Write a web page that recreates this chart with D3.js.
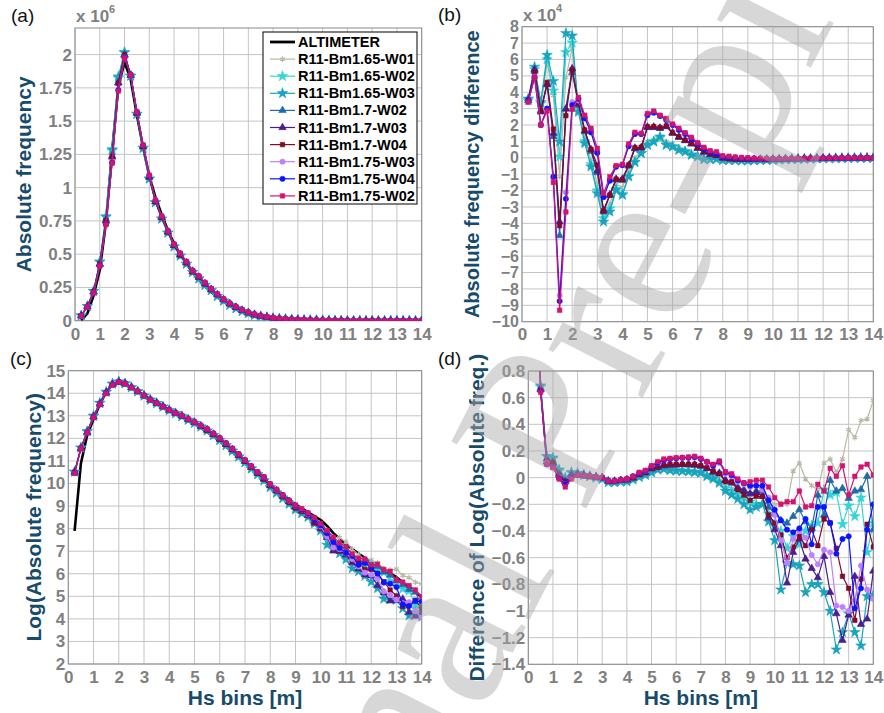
<!DOCTYPE html>
<html><head><meta charset="utf-8">
<script src="https://cdn.jsdelivr.net/npm/d3@7"></script>
<style>body{margin:0;background:#fff}</style>
</head><body>
<svg id="chart" width="884" height="713"></svg>
<script>
// ---------------- DATA ----------------
const HS_BINS = [0.25,0.5,0.75,1.0, 1.25,1.5,1.75,2.0, 2.25,2.5,2.75,3.0, 3.25,3.5,3.75,4.0,
  4.25,4.5,4.75,5.0, 5.25,5.5,5.75,6.0, 6.25,6.5,6.75,7.0, 7.25,7.5,7.75,8.0,
  8.25,8.5,8.75,9.0, 9.25,9.5,9.75,10.0, 10.25,10.5,10.75,11.0, 11.25,11.5,11.75,12.0,
  12.25,12.5,12.75,13.0, 13.25,13.5,13.75,14.0];
const X_TICKS = [0,1,2,3,4,5,6,7,8,9,10,11,12,13,14];
const A_Y_TICKS = [0,0.25,0.5,0.75,1,1.25,1.5,1.75,2];
const B_Y_TICKS = [-10,-9,-8,-7,-6,-5,-4,-3,-2,-1,0,1,2,3,4,5,6,7,8];
const C_Y_TICKS = [2,3,4,5,6,7,8,9,10,11,12,13,14,15];
const D_Y_TICKS = [-1.4,-1.2,-1,-0.8,-0.6,-0.4,-0.2,0,0.2,0.4,0.6,0.8];

// Altimeter: natural log of absolute frequency (panel c, black)
const ALT_LOG = [7.90,10.90,12.15,12.85, 13.51,14.06,14.38,14.48, 14.41,14.25,14.08,13.90,
  13.74,13.59,13.43,13.27, 13.12,12.97,12.80,12.64, 12.46,12.28,12.08,11.87,
  11.64,11.40,11.15,10.90, 10.65,10.41,10.17,9.93, 9.71,9.50,9.29,9.08,
  8.90,8.72,8.55,8.38, 8.12,7.80,7.55,7.30, 7.10,6.90,6.70,6.50,
  6.35,6.18,6.02,5.85, 5.62,5.40,5.18,4.97];

// Absolute frequency difference (model - altimeter), units of 1e4 (panel b)
const DIFF_165_W01 = [3.50,5.30,3.20,5.80, 3.80,-1.15,4.90,6.70, 3.00,1.20,-0.10,-1.60,
  -3.50,-2.80,-1.60,-1.80, -0.80,0.00,0.45,1.00, 1.10,1.30,1.00,0.85, 0.65,0.50,0.30,0.15,
  0.00,-0.03,-0.04,-0.10, -0.10,-0.11,-0.12,-0.12, -0.11,-0.10,-0.09,-0.08, -0.07,-0.06,-0.05,-0.04,
  -0.03,-0.03,-0.02,-0.02, -0.01,-0.01,-0.01,0.00, 0.00,0.00,0.00,0.00];
const DIFF_165_W02 = [3.50,5.40,3.30,6.00, 4.10,0.07,6.44,7.02, 2.90,1.00,-0.40,-2.00,
  -3.70,-3.10,-1.90,-2.20, -1.10,-0.25,0.30,0.80, 1.00,1.20,0.80,0.70, 0.50,0.40,0.20,0.10,
  -0.05,-0.07,-0.06,-0.12, -0.13,-0.14,-0.15,-0.15, -0.14,-0.13,-0.12,-0.11, -0.10,-0.09,-0.08,-0.07,
  -0.06,-0.05,-0.04,-0.04, -0.03,-0.03,-0.02,-0.02, -0.01,-0.01,-0.01,0.00];
const DIFF_165_W03 = [3.60,5.55,3.40,6.27, 4.68,0.98,7.60,7.45, 2.80,0.88,-0.54,-2.17,
  -3.90,-3.29,-1.97,-2.27, -1.15,-0.27,0.27,0.78, 0.98,1.29,0.78,0.68, 0.47,0.37,0.17,0.07,
  -0.10,-0.10,-0.08,-0.15, -0.15,-0.16,-0.17,-0.18, -0.16,-0.15,-0.14,-0.13, -0.12,-0.10,-0.09,-0.08,
  -0.07,-0.06,-0.05,-0.04, -0.04,-0.03,-0.03,-0.02, -0.02,-0.01,-0.01,-0.01];
const DIFF_17_W02 = [3.60,5.30,2.90,4.45, 1.30,-4.75,2.98,5.20, 3.20,1.60,0.40,-0.90,
  -3.30,-2.30,-1.35,-1.38, -0.50,0.55,0.60,1.85, 1.85,1.80,1.90,1.50, 1.25,1.05,0.85,0.58,
  0.35,0.20,0.12,-0.02, -0.06,-0.08,-0.09,-0.10, -0.09,-0.09,-0.09,-0.09, -0.08,-0.07,-0.06,-0.05,
  -0.05,-0.04,-0.03,-0.03, -0.02,-0.02,-0.01,-0.01, -0.01,0.00,0.00,0.00];
const DIFF_17_W03 = [3.50,5.40,2.80,4.50, 1.50,-3.90,2.98,5.45, 3.30,1.65,0.50,-0.80,
  -3.20,-2.25,-1.30,-1.30, -0.45,0.60,0.62,1.88, 1.88,1.82,1.92,1.52, 1.27,1.06,0.86,0.60,
  0.36,0.22,0.15,-0.01, -0.06,-0.08,-0.09,-0.10, -0.10,-0.10,-0.10,-0.10, -0.09,-0.08,-0.07,-0.06,
  -0.05,-0.05,-0.04,-0.03, -0.03,-0.02,-0.02,-0.01, -0.01,-0.01,0.00,0.00];
const DIFF_17_W04 = [3.50,5.20,2.87,4.60, 1.76,-4.14,2.57,5.36, 3.32,1.70,0.52,-0.44,
  -3.25,-2.27,-1.30,-1.33, -0.44,0.62,0.65,1.90, 1.90,1.84,1.94,1.53, 1.29,1.08,0.88,0.62,
  0.37,0.23,0.17,0.00, -0.05,-0.08,-0.09,-0.10, -0.09,-0.09,-0.10,-0.10, -0.09,-0.08,-0.07,-0.06,
  -0.05,-0.04,-0.04,-0.03, -0.02,-0.02,-0.02,-0.01, -0.01,-0.01,0.00,0.00];
const DIFF_175_W03 = [3.40,4.95,2.05,3.00, -1.30,-8.40,-2.10,3.40, 3.50,2.50,1.70,0.45,
  -2.30,-1.30,-0.50,-0.42, 0.75,1.50,1.45,2.65, 2.80,2.58,2.35,2.02, 1.75,1.50,1.20,0.88,
  0.60,0.40,0.30,0.08, 0.05,0.02,-0.01,-0.03, -0.05,-0.06,-0.06,-0.06, -0.06,-0.06,-0.05,-0.05,
  -0.04,-0.04,-0.03,-0.03, -0.02,-0.02,-0.01,-0.01, -0.01,0.00,0.00,0.00];
const DIFF_175_W04 = [3.50,4.90,2.00,3.00, -1.15,-8.74,-2.50,3.22, 3.60,2.41,1.55,0.30,
  -2.40,-1.40,-0.55,-0.45, 0.70,1.45,1.45,2.60, 2.75,2.55,2.30,2.00, 1.70,1.45,1.15,0.85,
  0.55,0.35,0.25,0.05, 0.03,0.00,-0.02,-0.04, -0.05,-0.05,-0.06,-0.07, -0.07,-0.06,-0.05,-0.05,
  -0.04,-0.04,-0.03,-0.02, -0.02,-0.02,-0.01,-0.01, -0.01,-0.01,0.00,0.00];
const DIFF_175_W02 = [3.40,4.90,2.00,2.85, -1.50,-9.30,-3.30,2.96, 3.69,2.60,1.80,0.58,
  -2.17,-1.15,-0.48,-0.40, 0.85,1.56,1.50,2.71, 2.85,2.60,2.40,2.06, 1.80,1.53,1.25,0.92,
  0.64,0.43,0.37,0.12, 0.10,0.05,0.02,0.00, -0.02,-0.03,-0.04,-0.05, -0.05,-0.04,-0.04,-0.03,
  -0.03,-0.02,-0.02,-0.01, -0.01,-0.01,0.00,0.00, 0.00,0.00,0.00,0.00];

// Difference of log(absolute frequency) (model - altimeter) (panel d)
const DLOG_165_W01 = [2.60,0.67,0.15,0.14, 0.05,-0.01,0.03,0.03, 0.02,0.01,0.00,-0.01,
  -0.03,-0.03,-0.025,-0.02, -0.01,0.01,0.025,0.045, 0.065,0.07,0.065,0.06, 0.06,0.055,0.05,0.045,
  0.02,0.005,-0.02,-0.06, -0.08,-0.09,-0.11,-0.13, -0.12,-0.10,-0.15,-0.20, -0.19,-0.20,0.05,0.11,
  -0.01,-0.06,-0.09,0.11, 0.14,0.04,0.14,0.36, 0.30,0.43,0.44,0.58];
const DLOG_165_W02 = [2.61,0.68,0.16,0.14, 0.05,-0.01,0.035,0.03, 0.02,0.01,0.00,-0.01,
  -0.03,-0.035,-0.03,-0.025, -0.01,0.005,0.02,0.04, 0.06,0.065,0.06,0.055, 0.05,0.05,0.045,0.04,
  0.015,0.00,-0.03,-0.08, -0.10,-0.12,-0.15,-0.18, -0.20,-0.20,-0.27,-0.35, -0.40,-0.53,-0.44,-0.50,
  -0.40,-0.36,-0.34,-0.09, -0.13,-0.11,-0.35,-0.21, -0.29,-0.15,-0.56,-0.34];
const DLOG_165_W03 = [2.62,0.69,0.16,0.15, 0.06,0.00,0.04,0.035, 0.02,0.01,0.00,-0.01,
  -0.035,-0.035,-0.03,-0.03, -0.015,0.005,0.02,0.04, 0.06,0.065,0.055,0.05, 0.05,0.045,0.04,0.035,
  0.01,-0.01,-0.04,-0.10, -0.13,-0.16,-0.20,-0.24, -0.22,-0.20,-0.33,-0.47, -0.84,-0.64,-0.65,-0.66,
  -0.86,-0.80,-0.80,-0.86, -1.00,-1.29,-1.16,-1.02, -1.16,-1.26,-0.89,-0.88];
const DLOG_17_W02 = [2.62,0.67,0.14,0.12, 0.03,-0.02,0.02,0.025, 0.02,0.01,0.005,0.00,
  -0.03,-0.03,-0.02,-0.02, -0.005,0.02,0.035,0.065, 0.075,0.09,0.095,0.10, 0.10,0.095,0.095,0.085,
  0.07,0.04,0.035,-0.02, -0.03,-0.07,-0.09,-0.12, -0.10,-0.10,-0.22,-0.27, -0.32,-0.34,-0.29,-0.24,
  -0.33,-0.38,-0.13,-0.28, -0.02,-0.10,-0.08,-0.155, -0.10,-0.09,0.01,-0.39];
const DLOG_17_W03 = [2.60,0.66,0.12,0.11, 0.02,-0.03,0.02,0.025, 0.02,0.01,0.005,0.00,
  -0.025,-0.025,-0.02,-0.015, 0.00,0.025,0.04,0.07, 0.08,0.09,0.095,0.095, 0.10,0.10,0.095,0.09,
  0.07,0.045,0.03,-0.02, -0.04,-0.08,-0.10,-0.12, -0.11,-0.14,-0.30,-0.39, -0.51,-0.79,-0.56,-0.46,
  -0.61,-0.68,-0.75,-0.59, -0.86,-1.02,-1.22,-1.03, -0.74,-1.10,-1.06,-0.70];
const DLOG_17_W04 = [2.60,0.66,0.13,0.11, 0.02,-0.04,0.01,0.02, 0.015,0.01,0.005,0.00,
  -0.025,-0.025,-0.02,-0.015, 0.00,0.025,0.04,0.07, 0.08,0.095,0.10,0.10, 0.10,0.10,0.10,0.09,
  0.075,0.05,0.03,-0.03, -0.03,-0.09,-0.13,-0.17, -0.14,-0.14,-0.28,-0.34, -0.43,-0.60,-0.52,-0.44,
  -0.51,-0.39,-0.51,-0.31, -0.34,-0.53,-0.74,-0.83, -1.07,-0.76,-0.35,-0.52];
const DLOG_175_W03 = [2.56,0.65,0.11,0.08, 0.00,-0.05,0.00,0.02, 0.015,0.01,0.005,0.00,
  -0.025,-0.025,-0.015,-0.01, 0.01,0.035,0.05,0.085, 0.11,0.13,0.14,0.145, 0.148,0.15,0.15,0.14,
  0.115,0.09,0.11,0.03, 0.01,-0.03,-0.05,-0.07, -0.06,-0.09,-0.15,-0.28, -0.47,-0.64,-0.46,-0.40,
  -0.45,-0.58,-0.65,-0.54, -0.56,-0.96,-0.97,-1.00, -0.92,-0.66,-0.84,-0.91];
const DLOG_175_W04 = [2.58,0.65,0.10,0.08, -0.005,-0.05,0.00,0.02, 0.015,0.01,0.005,0.00,
  -0.025,-0.025,-0.015,-0.01, 0.01,0.035,0.05,0.085, 0.11,0.13,0.14,0.145, 0.15,0.15,0.155,0.14,
  0.12,0.09,0.12,0.04, 0.02,-0.02,-0.04,-0.06, -0.06,-0.06,-0.17,-0.24, -0.32,-0.39,-0.41,-0.38,
  -0.31,-0.50,-0.22,-0.22, -0.34,-0.57,-0.46,-0.44, -0.98,-0.83,-0.39,-0.20];
const DLOG_175_W02 = [2.55,0.64,0.10,0.075, -0.01,-0.07,-0.01,0.02, 0.015,0.01,0.005,0.00,
  -0.025,-0.025,-0.015,-0.01, 0.01,0.04,0.055,0.09, 0.12,0.14,0.145,0.15, 0.15,0.155,0.16,0.145,
  0.12,0.10,0.125,0.045, 0.03,-0.01,-0.04,-0.03, -0.02,-0.02,-0.07,-0.15, -0.20,-0.18,-0.18,-0.10,
  -0.22,-0.21,-0.05,-0.10, 0.07,0.01,0.09,-0.13, 0.01,0.08,0.10,0.02];

const SERIES_NAMES = ['R11-Bm1.65-W01','R11-Bm1.65-W02','R11-Bm1.65-W03','R11-Bm1.7-W02','R11-Bm1.7-W03',
  'R11-Bm1.7-W04','R11-Bm1.75-W03','R11-Bm1.75-W04','R11-Bm1.75-W02'];
const SERIES_COLORS = ['#b9b9a3','#33d4d4','#1aa3bd','#1f6aa8','#4b1d8f','#820a2a','#bf7fff','#0a14ff','#d4136e'];
const SERIES_MARKERS = ['asterisk','star','star','triangle','triangle','square','circle','circle','square'];
const SERIES_DIFF = [DIFF_165_W01,DIFF_165_W02,DIFF_165_W03,DIFF_17_W02,DIFF_17_W03,DIFF_17_W04,DIFF_175_W03,DIFF_175_W04,DIFF_175_W02];
const SERIES_DLOG = [DLOG_165_W01,DLOG_165_W02,DLOG_165_W03,DLOG_17_W02,DLOG_17_W03,DLOG_17_W04,DLOG_175_W03,DLOG_175_W04,DLOG_175_W02];

// ---------------- DRAWING ----------------
const svg = d3.select('#chart');
const FONT = "'Liberation Sans', Arial, Helvetica, sans-serif";
const TITLE_COLOR = '#164b6b';
const TICK_COLOR = '#808080';
const GRID_COLOR = '#c4c4c4';
const FRAME_COLOR = '#8a8a8a';
const fmt = d => String(d).replace('-', '\u2212');

function symbolPath(kind, size) {
  const t = {circle:d3.symbolCircle, square:d3.symbolSquare, triangle:d3.symbolTriangle,
    star:d3.symbolStar, asterisk:(d3.symbolAsterisk || d3.symbolCross)}[kind];
  return d3.symbol().type(t).size(size)();
}
const MARKER_SIZE = {circle:22, square:20, triangle:24, star:34, asterisk:22};

let clipCount = 0;
function panel(cfg) {
  const x = d3.scaleLinear().domain([0, 14]).range([cfg.l, cfg.r]);
  const y = d3.scaleLinear().domain(cfg.yDomain).range([cfg.b, cfg.t]);
  const g = svg.append('g');
  g.append('rect').attr('x', cfg.l).attr('y', cfg.t).attr('width', cfg.r - cfg.l).attr('height', cfg.b - cfg.t).attr('fill', '#fff');
  g.append('g').selectAll('line').data(X_TICKS).join('line')
    .attr('x1', d => x(d)).attr('x2', d => x(d)).attr('y1', cfg.t).attr('y2', cfg.b)
    .attr('stroke', GRID_COLOR).attr('stroke-width', 1);
  g.append('g').selectAll('line').data(cfg.yTicks).join('line')
    .attr('x1', cfg.l).attr('x2', cfg.r).attr('y1', d => y(d)).attr('y2', d => y(d))
    .attr('stroke', GRID_COLOR).attr('stroke-width', 1);
  g.append('rect').attr('x', cfg.l).attr('y', cfg.t).attr('width', cfg.r - cfg.l).attr('height', cfg.b - cfg.t)
    .attr('fill', 'none').attr('stroke', FRAME_COLOR).attr('stroke-width', 1);

  const xa = g.append('g').attr('transform', `translate(0,${cfg.b})`)
    .call(d3.axisBottom(x).tickValues(X_TICKS).tickSize(0).tickPadding(cfg.xPad).tickFormat(fmt));
  const ya = g.append('g').attr('transform', `translate(${cfg.l},0)`)
    .call(d3.axisLeft(y).tickValues(cfg.yTicks).tickSize(0).tickPadding(3).tickFormat(fmt));
  [[xa, 17], [ya, cfg.yTickSize || 17]].forEach(([a, fs]) => {
    a.select('.domain').remove();
    a.selectAll('text').attr('fill', TICK_COLOR).style('font-family', FONT)
      .style('font-size', fs + 'px').style('font-weight', 'bold');
  });

  const id = 'clip' + (clipCount++);
  svg.append('clipPath').attr('id', id).append('rect')
    .attr('x', cfg.l).attr('y', cfg.t).attr('width', cfg.r - cfg.l).attr('height', cfg.b - cfg.t);
  const plot = g.append('g').attr('clip-path', `url(#${id})`);
  const line = d3.line().x(d => x(d[0])).y(d => y(d[1]));
  cfg.lines.forEach(s => {
    const pts = HS_BINS.map((h, i) => [h, s.values[i]]);
    plot.append('path').datum(pts).attr('d', line).attr('fill', 'none')
      .attr('stroke', s.color).attr('stroke-width', s.width).attr('stroke-linejoin', 'round');
    if (s.marker) {
      const p = symbolPath(s.marker, MARKER_SIZE[s.marker]);
      plot.append('g').selectAll('path').data(pts).join('path')
        .attr('transform', d => `translate(${x(d[0])},${y(d[1])})`).attr('d', p)
        .attr('fill', s.marker === 'asterisk' ? 'none' : s.color)
        .attr('stroke', s.color).attr('stroke-width', s.marker === 'asterisk' ? 1.2 : 0.6);
    }
  });

  // axis titles
  g.append('text').attr('transform', `translate(${cfg.ytX},${(cfg.t + cfg.b) / 2}) rotate(-90)`)
    .attr('text-anchor', 'middle').attr('dominant-baseline', 'central')
    .style('font-family', FONT).style('font-size', cfg.ytSize + 'px').style('font-weight', 'bold')
    .attr('fill', TITLE_COLOR).text(cfg.yTitle);
  if (cfg.xTitle) {
    g.append('text').attr('x', (cfg.l + cfg.r) / 2).attr('y', cfg.xtY).attr('text-anchor', 'middle')
      .style('font-family', FONT).style('font-size', '21px').style('font-weight', 'bold')
      .attr('fill', TITLE_COLOR).text(cfg.xTitle);
  }
  g.append('text').attr('x', cfg.labX).attr('y', cfg.labY)
    .style('font-family', FONT).style('font-size', '19px').attr('fill', '#111').text(cfg.label);
  if (cfg.expo) {
    const t = g.append('text').attr('x', cfg.l + 1).attr('y', cfg.t - 6)
      .style('font-family', FONT).style('font-size', '17px').style('font-weight', 'bold').attr('fill', TICK_COLOR);
    t.append('tspan').text('x 10');
    t.append('tspan').attr('dy', -9).style('font-size', '11px').text(cfg.expo);
  }
  return {x, y, g};
}

const altFreq = ALT_LOG.map(v => Math.exp(v) / 1e6);

// (a) absolute frequency
const linesA = [{values: altFreq, color: '#000', width: 2.6}].concat(SERIES_NAMES.map((n, i) => ({
  values: altFreq.map((a, j) => a + SERIES_DIFF[i][j] / 100), color: SERIES_COLORS[i], width: 1.2, marker: SERIES_MARKERS[i]})));
panel({l: 75, r: 421.7, t: 28, b: 320.7, yDomain: [0, 2.2], yTicks: A_Y_TICKS, xPad: 7,
  lines: linesA, yTitle: 'Absolute frequency', ytX: 23, ytSize: 21, label: '(a)', labX: 11, labY: 22, expo: '6'});

// (b) absolute frequency difference
const linesB = SERIES_NAMES.map((n, i) => ({values: SERIES_DIFF[i], color: SERIES_COLORS[i], width: 1.2, marker: SERIES_MARKERS[i]}));
panel({l: 522, r: 873.3, t: 26.7, b: 321.7, yDomain: [-10, 8], yTicks: B_Y_TICKS, xPad: 6, yTickSize: 16,
  lines: linesB, yTitle: 'Absolute frequency difference', ytX: 472, ytSize: 20, label: '(b)', labX: 438, labY: 21, expo: '4'});

// (c) log absolute frequency
const linesC = [{values: ALT_LOG, color: '#000', width: 2.6}].concat(SERIES_NAMES.map((n, i) => ({
  values: ALT_LOG.map((a, j) => a + SERIES_DLOG[i][j]), color: SERIES_COLORS[i], width: 1.2, marker: SERIES_MARKERS[i]})));
panel({l: 68.3, r: 421.7, t: 370.7, b: 664, yDomain: [2, 15], yTicks: C_Y_TICKS, xPad: 7,
  lines: linesC, yTitle: 'Log(Absolute frequency)', ytX: 33, ytSize: 21, xTitle: 'Hs bins [m]', xtY: 705,
  label: '(c)', labX: 10, labY: 365});

// (d) difference of log
const linesD = SERIES_NAMES.map((n, i) => ({values: SERIES_DLOG[i], color: SERIES_COLORS[i], width: 1.2, marker: SERIES_MARKERS[i]}));
panel({l: 528.3, r: 873.3, t: 371, b: 664.3, yDomain: [-1.4, 0.8], yTicks: D_Y_TICKS, xPad: 7,
  lines: linesD, yTitle: 'Difference of Log(Absolute freq.)', ytX: 476, ytSize: 21, xTitle: 'Hs bins [m]', xtY: 705,
  label: '(d)', labX: 438, labY: 365});

// legend in (a)
const lg = svg.append('g');
lg.append('rect').attr('x', 263).attr('y', 32).attr('width', 154).attr('height', 172)
  .attr('fill', '#fff').attr('stroke', '#000').attr('stroke-width', 1);
const legendItems = [{name: 'ALTIMETER', color: '#000', width: 2.8}].concat(SERIES_NAMES.map((n, i) => ({
  name: n, color: SERIES_COLORS[i], width: 1.2, marker: SERIES_MARKERS[i]})));
legendItems.forEach((it, i) => {
  const yy = 42 + i * 17.1;
  lg.append('line').attr('x1', 270).attr('x2', 295).attr('y1', yy).attr('y2', yy)
    .attr('stroke', it.color).attr('stroke-width', it.width);
  if (it.marker) {
    lg.append('path').attr('transform', `translate(282.5,${yy})`).attr('d', symbolPath(it.marker, MARKER_SIZE[it.marker]))
      .attr('fill', it.marker === 'asterisk' ? 'none' : it.color).attr('stroke', it.color)
      .attr('stroke-width', it.marker === 'asterisk' ? 1.2 : 0.6);
  }
  lg.append('text').attr('x', 298).attr('y', yy).attr('dominant-baseline', 'central')
    .style('font-family', FONT).style('font-size', '14.5px').style('font-weight', 'bold')
    .attr('fill', '#000').text(it.name);
});

// watermark (clipped to the page)
svg.append('clipPath').attr('id', 'pageclip').append('rect').attr('width', 884).attr('height', 713);
svg.append('g').attr('clip-path', 'url(#pageclip)').append('text')
  .attr('transform', 'translate(180,1135) rotate(-63)')
  .attr('dominant-baseline', 'central')
  .style('font-family', "'Liberation Serif','DejaVu Serif',serif").style('font-size', '230px')
  .attr('fill', '#a8a8a8').attr('opacity', 0.45).style('pointer-events', 'none')
  .text('Journal Pre-proof');
</script>
</body></html>
